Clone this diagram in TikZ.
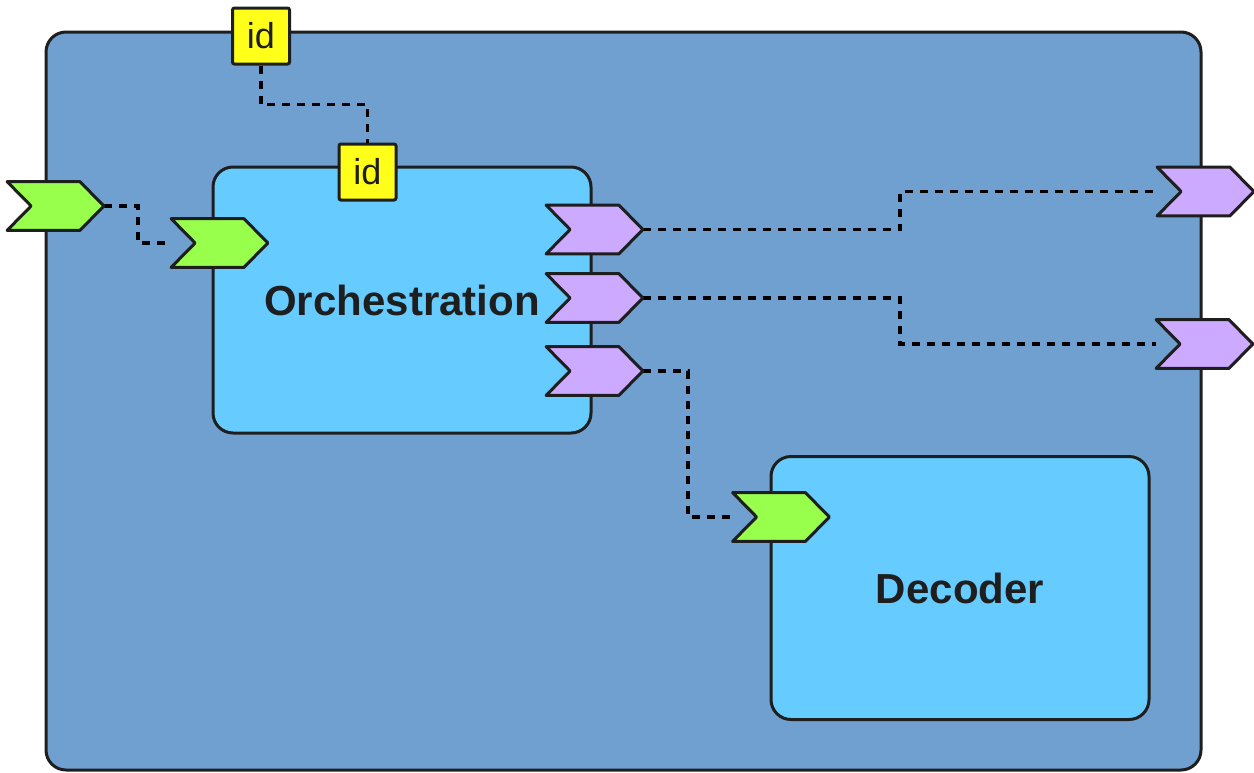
\documentclass[tikz,border=0pt]{standalone}
\usepackage{fontspec}
\setmainfont{Liberation Sans}
\definecolor{outerblue}{RGB}{111,160,207}
\definecolor{boxblue}{RGB}{102,204,255}
\definecolor{portgreen}{RGB}{153,255,77}
\definecolor{portpurple}{RGB}{204,170,255}
\definecolor{idyellow}{RGB}{255,255,26}
\definecolor{edge}{RGB}{30,30,30}
\tikzset{
  outerbox/.style={draw=edge, line width=1.5pt, fill=outerblue, rounded corners=10pt},
  compbox/.style={draw=edge, line width=1.5pt, fill=boxblue, rounded corners=10pt,
    font=\fontsize{21}{25}\selectfont\bfseries, text=edge, inner sep=0pt},
  idbox/.style={draw=edge, line width=1.5pt, fill=idyellow, rounded corners=1pt,
    minimum width=28.5pt, minimum height=28pt, inner sep=0pt,
    font=\fontsize{18}{22}\selectfont, text=edge},
  portbox/.style={draw=none, minimum width=48pt, minimum height=24pt, inner sep=0pt},
  wire/.style={draw=black, line width=1.75pt, dash pattern=on 4pt off 3.5pt},
}
\newcommand\chevdraw[2]{%
  \draw[draw=edge, line width=1.5pt, line join=round, fill=#2]
    (#1.north west) -- ([xshift=-12pt]#1.north east) -- (#1.east)
    -- ([xshift=-12pt]#1.south east) -- (#1.south west)
    -- ([xshift=12pt]#1.west) -- cycle;}
\begin{document}
\begin{tikzpicture}[x=0.5pt,y=-0.5pt]
\useasboundingbox (0,0) rectangle (1254,772);
% outer container
\node[outerbox, minimum width=577.5pt, minimum height=369pt] (outer) at (623.5,401) {};
% components
\node[compbox, minimum width=189pt, minimum height=133pt] (orch) at (402,300) {Orchestration};
\node[compbox, minimum width=189pt, minimum height=131.5pt, text depth=0pt] (dec) at (960,588) {Decoder};
% port holders
\node[portbox] (gin) at (55.5,206) {};
\node[portbox] (gorch) at (219.5,243) {};
\node[portbox] (gdec) at (781,517) {};
\node[portbox] (p1) at (594.5,229.5) {};
\node[portbox] (p2) at (594.5,298) {};
\node[portbox] (p3) at (594.5,371) {};
\node[portbox] (r1) at (1205.5,191.5) {};
\node[portbox] (r2) at (1204.5,344) {};
% id boxes
\node[idbox] (idtop) at (261,36) {id};
\node[idbox] (idorch) at (367.5,172) {id};
% connectors
\draw[wire] (idtop.south) -- ++(0,39) -| (idorch.north);
\draw[wire] (gin.east) -- ++(34,0) |- (gorch.west);
\draw[wire] (p1.east) -- ++(257,0) |- (r1.west);
\draw[wire] (p2.east) -- ++(257,0) |- (r2.west);
\draw[wire] (p3.east) -- ++(45,0) |- (gdec.west);
% chevrons
\chevdraw{gin}{portgreen}
\chevdraw{gorch}{portgreen}
\chevdraw{gdec}{portgreen}
\chevdraw{p1}{portpurple}
\chevdraw{p2}{portpurple}
\chevdraw{p3}{portpurple}
\chevdraw{r1}{portpurple}
\chevdraw{r2}{portpurple}
\end{tikzpicture}
\end{document}
